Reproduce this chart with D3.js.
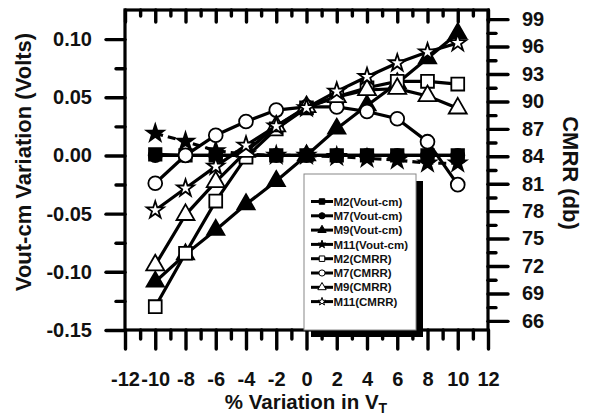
<!DOCTYPE html>
<html><head><meta charset="utf-8">
<script src="https://cdn.jsdelivr.net/npm/d3@7/dist/d3.min.js"></script>
<style>
html,body{margin:0;padding:0;background:#fff;}
svg{display:block;font-family:"Liberation Sans",Arial,sans-serif;font-weight:bold;}
</style></head>
<body><svg id="c" width="596" height="419"></svg>
<script>
const xVals = [-10,-8,-6,-4,-2,0,2,4,6,8,10];
const m2Vout = [0.001,0,0,0,0,0,0,0,0,0,0];
const m7Vout = [0,0,0,0,0,0,0,0,0,0,0];
const m9Vout = [-0.1085,-0.085,-0.064,-0.042,-0.022,0,0.023,0.043,0.062,0.0835,0.105];
const m11Vout = [0.019,0.012,0.004,0.001,0,0,-0.001,-0.0025,-0.004,-0.0067,-0.0067];
const m2CMRR = [67.55,73.4,79.1,83.9,87.0,89.3,90.5,91.5,92.2,92.2,91.9];
const m7CMRR = [81.05,84.1,86.3,87.8,89.05,89.4,89.4,88.9,88.1,85.6,80.9];
const m9CMRR = [72.1,77.6,81.2,84.5,87.3,89.4,90.5,91.25,91.4,90.6,89.25];
const m11CMRR = [78.1,80.5,82.9,85.2,87.3,89.3,91.1,92.7,94.2,95.4,96.4];

const xTicks = [-12,-10,-8,-6,-4,-2,0,2,4,6,8,10,12];
const xMinor = [-11,-9,-7,-5,-3,-1,1,3,5,7,9,11];
const leftTicks = [-0.15,-0.10,-0.05,0,0.05,0.10];
const leftMinor = [-0.125,-0.075,-0.025,0.025,0.075];
const rightTicks = [66,69,72,75,78,81,84,87,90,93,96,99];
const rightMinor = [67.5,70.5,73.5,76.5,79.5,82.5,85.5,88.5,91.5,94.5,97.5];

const seriesNames = ["M2(Vout-cm)","M7(Vout-cm)","M9(Vout-cm)","M11(Vout-cm)","M2(CMRR)","M7(CMRR)","M9(CMRR)","M11(CMRR)"];

const L=125,R=488,T=10,B=330;
const x = d3.scaleLinear().domain([-12,12]).range([L,R]);
const yL = d3.scaleLinear().domain([-0.15,0.125]).range([B,T]);
const yR = d3.scaleLinear().domain([65,100]).range([B,T]);

const svg = d3.select("#c");
svg.append("rect").attr("width",596).attr("height",419).attr("fill","#fff");

const series = [
  {name:seriesNames[0], vals:m2Vout, y:yL, sym:d3.symbolSquare, size:155, fill:"#000", dash:null},
  {name:seriesNames[1], vals:m7Vout, y:yL, sym:d3.symbolCircle, size:135, fill:"#000", dash:null},
  {name:seriesNames[2], vals:m9Vout, y:yL, sym:d3.symbolTriangle, size:130, fill:"#000", dash:null},
  {name:seriesNames[3], vals:m11Vout, y:yL, sym:d3.symbolStar, size:90, fill:"#000", dash:"8,5"},
  {name:seriesNames[4], vals:m2CMRR, y:yR, sym:d3.symbolSquare, size:165, fill:"#fff", dash:null},
  {name:seriesNames[5], vals:m7CMRR, y:yR, sym:d3.symbolCircle, size:150, fill:"#fff", dash:null},
  {name:seriesNames[6], vals:m9CMRR, y:yR, sym:d3.symbolTriangle, size:140, fill:"#fff", dash:null},
  {name:seriesNames[7], vals:m11CMRR, y:yR, sym:d3.symbolStar, size:90, fill:"#fff", dash:null}
];

const gData = svg.append("g");
series.forEach(s=>{
  const pts = xVals.map((xv,i)=>[xv,s.vals[i]]);
  const line = d3.line().x(d=>x(d[0])).y(d=>s.y(d[1]));
  gData.append("path").attr("d",line(pts)).attr("fill","none").attr("stroke","#000")
    .attr("stroke-width",3.2).attr("stroke-dasharray",s.dash);
  gData.selectAll(null).data(pts).enter().append("path")
    .attr("d",d3.symbol().type(s.sym).size(s.size))
    .attr("transform",d=>`translate(${x(d[0])},${s.y(d[1])})`)
    .attr("fill",s.fill).attr("stroke","#000").attr("stroke-width",1.8);
});

// axes (d3 axes draw ticks and labels)
function styleAxis(g){
  g.select(".domain").remove();
  g.selectAll(".tick line").attr("stroke","#000").attr("stroke-width",3.4).attr("stroke-linecap","round");
  g.selectAll(".tick text").attr("fill","#111").attr("font-size","20px").attr("font-weight","bold")
    .attr("font-family","Liberation Sans, Arial, sans-serif");
}
function addAxis(axis, tx, ty){
  styleAxis(svg.append("g").attr("transform",`translate(${tx},${ty})`).call(axis));
}
addAxis(d3.axisBottom(x).tickValues(xTicks).tickSize(19).tickPadding(23).tickFormat(d=>String(d)),0,B);
addAxis(d3.axisBottom(x).tickValues(xMinor).tickSize(9).tickFormat(""),0,B);
addAxis(d3.axisBottom(x).tickValues(xTicks).tickSize(12).tickFormat(""),0,T);
addAxis(d3.axisBottom(x).tickValues(xMinor).tickSize(6).tickFormat(""),0,T);
addAxis(d3.axisLeft(yL).tickValues(leftTicks).tickSize(19).tickPadding(14).tickFormat(d=>d.toFixed(2)),L,0);
addAxis(d3.axisLeft(yL).tickValues(leftMinor).tickSize(9).tickFormat(""),L,0);
addAxis(d3.axisRight(yR).tickValues(rightTicks).tickSize(20).tickPadding(14).tickFormat(d=>String(d)),R,0);
addAxis(d3.axisRight(yR).tickValues(rightMinor).tickSize(8).tickFormat(""),R,0);

// frame
svg.append("rect").attr("x",L).attr("y",T).attr("width",R-L).attr("height",B-T)
  .attr("fill","none").attr("stroke","#000").attr("stroke-width",3.2);

// legend
const lg = svg.append("g");
lg.append("rect").attr("x",311).attr("y",181).attr("width",112).attr("height",156).attr("fill","#000");
lg.append("rect").attr("x",304).attr("y",174).attr("width",112).attr("height",156).attr("fill","#fff").attr("stroke","#888").attr("stroke-width",1);
series.forEach((s,i)=>{
  const yy = 201.5 + i*14.3;
  lg.append("line").attr("x1",311).attr("x2",333).attr("y1",yy).attr("y2",yy).attr("stroke","#000").attr("stroke-width",3);
  lg.append("path").attr("d",d3.symbol().type(s.sym).size(s.sym===d3.symbolStar?20:30))
    .attr("transform",`translate(322,${yy})`).attr("fill",s.fill).attr("stroke","#000").attr("stroke-width",1);
  lg.append("text").attr("x",333.5).attr("y",yy).attr("dy","0.36em").attr("font-size","11.5px").attr("fill","#111").text(s.name);
});

// titles
svg.append("text").attr("transform","translate(31,162) rotate(-90)").attr("text-anchor","middle")
  .attr("font-size","22px").attr("fill","#111").text("Vout-cm Variation (Volts)");
svg.append("text").attr("transform","translate(563,173) rotate(90)").attr("text-anchor","middle")
  .attr("font-size","22px").attr("fill","#111").text("CMRR (db)");
const xt = svg.append("text").attr("x",306).attr("y",409).attr("text-anchor","middle").attr("font-size","20.5px").attr("fill","#111");
xt.append("tspan").text("% Variation in V");
xt.append("tspan").attr("font-size","14px").attr("dy","4").text("T");
</script></body></html>
